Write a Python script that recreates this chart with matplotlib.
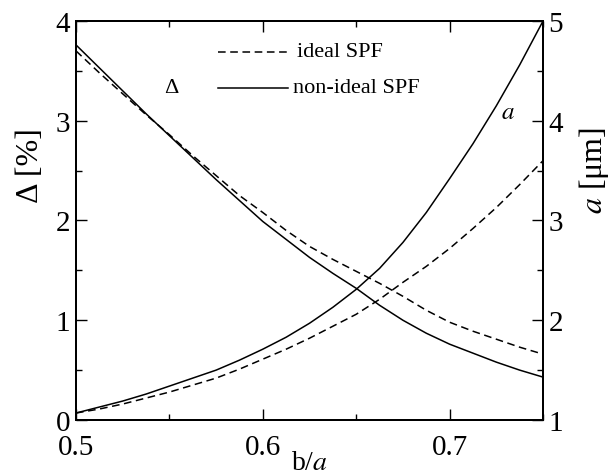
import numpy as np
import matplotlib
matplotlib.use("Agg")
import matplotlib.pyplot as plt
from matplotlib.ticker import MultipleLocator

plt.rcParams['font.family'] = ['Liberation Serif', 'DejaVu Serif']
plt.rcParams['mathtext.fontset'] = 'stix'

# b/a values
ratio = [0.5, 0.5125, 0.525, 0.5375, 0.55, 0.5625, 0.575, 0.5875, 0.6, 0.6125, 0.625,
         0.6375, 0.65, 0.6625, 0.675, 0.6875, 0.7, 0.7125, 0.725, 0.7375, 0.75]

# Delta [%] (left axis)
delta_ideal = [3.70, 3.48, 3.27, 3.06, 2.86, 2.65, 2.45, 2.25, 2.08, 1.90, 1.74,
               1.61, 1.49, 1.37, 1.24, 1.10, 0.98, 0.89, 0.81, 0.73, 0.66]
delta_nonideal = [3.76, 3.53, 3.30, 3.07, 2.85, 2.63, 2.41, 2.20, 1.99, 1.81, 1.63,
                  1.47, 1.32, 1.15, 1.00, 0.87, 0.76, 0.67, 0.58, 0.50, 0.43]

# a [um] (right axis)
a_ideal = [1.07, 1.11, 1.16, 1.22, 1.28, 1.35, 1.42, 1.51, 1.61, 1.71, 1.82,
           1.94, 2.06, 2.21, 2.38, 2.54, 2.72, 2.92, 3.13, 3.36, 3.60]
a_nonideal = [1.07, 1.13, 1.19, 1.26, 1.34, 1.42, 1.50, 1.60, 1.71, 1.83, 1.97,
              2.13, 2.31, 2.52, 2.78, 3.08, 3.42, 3.77, 4.15, 4.56, 5.0]

fig = plt.figure(figsize=(6.15, 4.77), dpi=100)
ax = fig.add_axes([0.1236, 0.1174, 0.7594, 0.8365])
ax2 = ax.twinx()

lw = 1.1
dash = (0, (5, 3))
ax.plot(ratio, delta_ideal, color='black', ls=dash, lw=lw)
ax.plot(ratio, delta_nonideal, color='black', ls='-', lw=lw)
ax2.plot(ratio, a_ideal, color='black', ls=dash, lw=lw)
ax2.plot(ratio, a_nonideal, color='black', ls='-', lw=lw)

ax.set_xlim(0.5, 0.75)
ax.set_ylim(0, 4)
ax2.set_ylim(1, 5)

ax.xaxis.set_minor_locator(MultipleLocator(0.05))
ax.yaxis.set_major_locator(MultipleLocator(1))
ax.yaxis.set_minor_locator(MultipleLocator(0.5))
ax2.yaxis.set_major_locator(MultipleLocator(1))
ax2.yaxis.set_minor_locator(MultipleLocator(0.5))
ax.set_xticks([0.5, 0.6, 0.7])
ax.set_xticklabels(['0.5', '0.6', '0.7'])

ax.tick_params(axis='x', which='both', direction='in', top=True, bottom=True,
               labelsize=21, pad=10)
ax.tick_params(axis='y', which='both', direction='in', left=True, right=False,
               labelsize=21, pad=4)
ax2.tick_params(axis='y', which='both', direction='in', right=True, left=False,
                labelsize=21, pad=4)
for a_ in (ax, ax2):
    a_.tick_params(which='major', length=8, width=1.0)
    a_.tick_params(which='minor', length=4.5, width=1.0)
    for sp in a_.spines.values():
        sp.set_linewidth(1.4)

ax.set_xlabel('b/$a$', fontsize=20, labelpad=-7)
ax.set_ylabel('Δ [%]', fontsize=23)
ax.yaxis.set_label_coords(-0.066, 0.639)
ax2.set_ylabel('$a$ [μm]', fontsize=23, rotation=90)
ax2.yaxis.set_label_coords(1.073, 0.629)

# legend drawn by hand
ax.plot([0.5759, 0.6128], [3.69, 3.69], color='black', ls=dash, lw=lw)
ax.text(0.6182, 3.69, 'ideal SPF', fontsize=16, va='center', ha='left')
ax.plot([0.5759, 0.6133], [3.33, 3.33], color='black', ls='-', lw=lw)
ax.text(0.6160, 3.33, 'non-ideal SPF', fontsize=16, va='center', ha='left')

ax.text(0.551, 3.33, 'Δ', fontsize=16, va='center', ha='center')
ax.text(0.731, 3.09, '$a$', fontsize=18, va='center', ha='center')

fig.savefig('out.png', dpi=100)
